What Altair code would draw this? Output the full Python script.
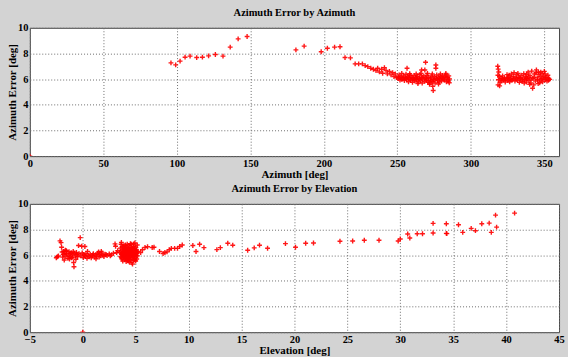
import altair as alt
import pandas as pd

# ---------------- Top panel: Azimuth Error by Azimuth ----------------
top_az = [0.0,
    96.0, 99.2, 102.2, 105.6, 109.0, 113.5, 117.4, 121.6, 126.2, 131.4, 136.3, 141.7, 147.8,
    181.0, 186.6, 198.2, 202.4, 207.3, 211.0, 214.4, 218.1, 221.3, 223.7, 226.2,
    228.1, 229.9, 231.9, 233.7, 235.5, 236.6, 237.8, 239.3, 240.0, 241.2, 242.3, 243.2,
    244.6, 245.7, 246.8, 247.7, 248.6, 249.5,
    # cluster 250-286
    250.5, 251.2, 251.8, 252.4, 253.0, 253.5, 254.1, 254.8, 255.3, 255.9, 256.4, 256.6,
    257.0, 257.6, 258.1, 258.7, 259.2, 259.8, 260.3, 260.9, 261.4, 262.0, 262.5, 263.1,
    263.6, 264.2, 264.7, 265.3, 265.8, 266.4, 266.5, 266.9, 267.5, 268.0, 268.6, 268.7,
    269.2, 269.1, 269.7, 270.2, 270.8, 271.3, 271.9, 272.4, 273.0, 273.5, 274.1, 274.4,
    274.6, 275.2, 275.7, 276.2, 276.2, 276.3, 276.8, 277.4, 277.9, 278.5, 279.0, 279.6,
    280.1, 280.7, 281.2, 281.8, 282.3, 282.9, 283.4, 284.0, 284.5, 285.0, 285.3, 285.5,
    251.0, 252.9, 254.5, 256.0, 257.3, 259.0, 260.6, 261.7, 263.3, 265.0, 267.2, 269.9,
    271.0, 272.7, 274.0, 275.0, 277.1, 278.8, 280.4, 282.0, 283.7, 284.8, 266.0, 262.8,
    258.4, 270.5, 273.8, 279.3, 283.0, 278.0, 272.0, 264.0,
    # cluster 318-354
    318.3, 318.6, 319.0, 318.4, 319.5, 318.8, 319.9, 318.5, 319.6, 320.5, 321.0, 321.6,
    322.2, 322.8, 323.4, 324.0, 324.6, 325.2, 325.8, 326.4, 327.0, 327.6, 328.2, 328.8,
    329.4, 330.0, 330.6, 331.2, 331.8, 332.4, 333.0, 333.6, 334.2, 334.8, 335.4, 336.0,
    336.6, 337.2, 337.8, 338.4, 339.0, 339.6, 340.2, 340.8, 341.4, 342.0, 342.2, 342.8,
    343.4, 344.0, 344.6, 345.2, 345.8, 346.4, 347.0, 347.6, 348.2, 348.8, 349.4, 350.0,
    350.6, 351.2, 351.8, 352.4, 353.0, 353.6,
    321.3, 323.0, 325.0, 327.3, 329.0, 331.0, 333.3, 335.0, 337.5, 339.3, 341.0, 343.0,
    345.5, 347.3, 349.0, 351.0, 352.8, 326.0, 332.0, 338.0, 344.3, 346.0, 348.5, 350.5,
    340.0, 336.3, 346.8]
top_err = [0.0,
    7.27, 7.11, 7.40, 7.71, 7.79, 7.68, 7.71, 7.81, 7.92, 7.79, 8.49, 9.14, 9.32,
    8.28, 8.57, 8.13, 8.41, 8.49, 8.52, 7.68, 7.66, 7.19, 7.19, 7.19,
    7.05, 6.97, 6.85, 6.77, 6.67, 6.85, 6.56, 6.77, 6.46, 6.90, 6.67, 6.41,
    6.59, 6.33, 6.51, 6.20, 6.41, 6.12,
    6.05, 6.32, 5.92, 6.18, 6.45, 6.02, 6.25, 5.88, 6.12, 6.38, 5.95, 6.85,
    6.20, 5.80, 6.08, 6.30, 5.90, 6.15, 5.75, 6.02, 6.28, 5.85, 6.10, 5.95,
    6.22, 5.78, 6.05, 6.35, 5.88, 6.12, 6.71, 5.70, 6.00, 6.25, 5.82, 6.71,
    7.31, 6.08, 5.92, 6.30, 5.75, 6.15, 5.60, 6.02, 5.85, 6.25, 5.45, 5.11,
    5.95, 6.18, 5.70, 7.10, 6.85, 6.05, 6.32, 5.88, 6.12, 5.78, 6.22, 6.00,
    5.85, 6.28, 6.05, 5.92, 6.18, 6.35, 5.80, 6.10, 5.95, 6.25, 5.72, 6.02,
    6.15, 5.98, 6.10, 6.05, 6.12, 6.00, 6.10, 5.98, 6.08, 5.98, 6.15, 6.05,
    5.90, 6.10, 5.80, 6.00, 6.00, 6.05, 6.12, 6.00, 6.15, 5.85, 6.45, 6.40,
    6.42, 6.45, 6.40, 6.40, 6.45, 5.62, 5.70, 5.65,
    7.00, 6.78, 6.55, 6.30, 6.20, 5.95, 5.75, 5.55, 5.47, 6.05, 5.85, 6.25,
    5.95, 6.10, 5.78, 6.02, 6.35, 5.88, 6.15, 5.80, 6.05, 6.40, 5.92, 6.20,
    6.50, 5.85, 6.12, 6.35, 5.90, 6.15, 5.75, 6.05, 6.30, 5.82, 6.10, 6.42,
    5.95, 6.20, 5.78, 6.05, 6.55, 5.90, 6.28, 5.70, 6.62, 5.29, 6.05, 5.55,
    6.40, 5.85, 6.72, 6.10, 5.65, 6.35, 5.92, 6.55, 6.00, 5.80, 6.25, 6.60,
    5.95, 6.15, 5.85, 6.30, 6.05, 5.98,
    6.05, 6.00, 6.08, 5.95, 6.05, 6.00, 6.10, 5.95, 6.05, 6.15, 6.00, 6.15,
    5.95, 6.20, 6.05, 6.10, 5.90, 6.30, 6.45, 6.38, 6.50, 6.55, 6.45, 6.40,
    5.60, 5.70, 5.72]

# ---------------- Bottom panel: Azimuth Error by Elevation ----------------
bot_el = [0.0,
    # cluster -2.5 .. 3.3
    -2.5, -2.4, -2.3, -2.15, -2.05, -2.0, -1.95, -1.9, -1.85, -1.8, -1.75, -1.7,
    -1.6, -1.55, -1.5, -1.4, -1.35, -1.3, -1.2, -1.15, -1.1, -1.0, -0.95, -0.9,
    -0.86, -0.83, -0.8, -0.7, -0.6, -0.55, -0.5, -0.4, -0.35, -0.24, -0.2, -0.1,
    -0.05, 0.05, 0.1, 0.2, 0.25, 0.3, 0.4, 0.5, 0.6, 0.7, 0.8, 0.9,
    1.0, 1.1, 1.2, 1.3, 1.4, 1.5, 1.55, 1.6, 1.7, 1.8, 1.9, 2.0,
    2.1, 2.3, 2.5, 2.7, 2.9, 3.05, 3.1, 3.2, 3.3, -1.65, -1.25, -0.65,
    0.45, 1.25, 1.75, -1.05, 2.2, 2.6, 0.15, 0.95,
    # cluster 3.5 .. 5.2
    3.50, 3.55, 3.58, 3.62, 3.65, 3.68, 3.70, 3.72, 3.75, 3.78, 3.80, 3.82,
    3.85, 3.88, 3.90, 3.92, 3.95, 3.98, 4.00, 4.02, 4.05, 4.08, 4.10, 4.12,
    4.15, 4.18, 4.20, 4.22, 4.25, 4.28, 4.30, 4.32, 4.35, 4.38, 4.40, 4.42,
    4.45, 4.48, 4.50, 4.52, 4.55, 4.58, 4.60, 4.62, 4.65, 4.68, 4.70, 4.72,
    4.75, 4.78, 4.80, 4.82, 4.85, 4.88, 4.90, 4.92, 4.95, 4.98, 5.00, 5.02,
    5.05, 5.08, 5.10, 5.12, 5.15, 5.18, 5.20,
    3.60, 3.70, 3.85, 3.95, 4.05, 4.15, 4.25, 4.35, 4.45, 4.55, 4.65, 4.75,
    4.85, 4.95, 5.05, 3.75, 4.00, 4.30, 4.60, 4.90, 3.90, 4.50, 4.80, 4.20, 3.65,
    # sparse 5.4 .. 41
    5.47, 5.64, 5.88, 6.12, 6.56, 6.73, 7.25, 7.59, 7.76, 7.96, 8.17, 8.37,
    8.68, 8.95, 9.16, 9.40, 10.4, 10.7, 11.04, 11.45, 12.67, 13.0, 13.7, 14.17,
    15.58, 16.2, 16.7, 17.46, 19.15, 20.1, 21.06, 21.8, 24.3, 25.5, 26.6, 27.99,
    29.8, 30.0, 30.7, 30.9, 31.6, 32.1, 33.1, 33.1, 34.35, 34.35, 34.4, 35.5,
    35.9, 36.7, 37.1, 37.7, 38.4, 38.6, 39.0, 39.1, 40.8]
bot_err = [0.0,
    5.80, 5.88, 5.95, 7.12, 6.98, 6.62, 6.25, 5.85, 6.05, 6.30, 5.62, 6.10,
    5.90, 6.35, 6.15, 5.75, 6.00, 6.28, 6.10, 5.90, 6.20, 6.05, 5.85, 6.30,
    5.43, 5.10, 6.15, 5.95, 6.22, 6.05, 5.88, 6.75, 6.12, 7.37, 5.95, 6.70,
    6.18, 5.82, 6.05, 6.68, 5.90, 6.12, 5.75, 6.00, 5.88, 6.08, 5.80, 5.95,
    6.12, 5.85, 6.02, 5.92, 6.15, 6.25, 5.85, 6.05, 5.95, 6.18, 6.00, 5.90,
    6.08, 5.98, 6.10, 6.02, 6.15, 6.88, 6.70, 6.20, 6.35, 6.40, 5.70, 5.68,
    6.30, 5.72, 6.30, 5.80, 6.05, 5.95, 5.98, 6.02,
    6.20, 6.55, 5.90, 6.85, 7.00, 6.05, 5.70, 6.40, 6.15, 5.55, 6.70, 5.95,
    6.30, 6.55, 5.80, 6.10, 5.65, 6.45, 6.00, 6.80, 5.75, 6.25, 5.50, 6.60,
    5.90, 6.35, 6.05, 5.60, 6.50, 5.85, 6.20, 6.75, 5.70, 6.40, 6.00, 5.45,
    6.62, 5.95, 6.30, 5.65, 6.10, 6.85, 5.80, 6.45, 5.40, 6.20, 5.30, 6.55,
    5.90, 6.35, 5.60, 6.70, 6.05, 5.75, 6.50, 6.95, 5.85, 6.25, 5.55, 6.60,
    6.00, 6.40, 5.70, 6.15, 6.80, 5.95, 6.30,
    6.30, 6.10, 5.95, 6.20, 6.05, 6.45, 5.75, 6.15, 5.85, 6.40, 6.00, 6.15,
    5.95, 6.10, 6.25, 6.60, 5.85, 5.55, 6.60, 5.65, 6.75, 6.90, 6.88, 6.85, 5.80,
    6.21, 6.42, 6.60, 6.66, 6.60, 6.62, 6.29, 6.13, 6.21, 6.26, 6.42, 6.53,
    6.53, 6.53, 6.68, 6.79, 6.76, 6.29, 6.85, 6.59, 6.43, 6.59, 6.93, 6.78,
    6.39, 6.57, 6.78, 6.54, 6.90, 6.62, 6.93, 6.95, 7.09, 7.11, 7.16, 7.16,
    7.11, 7.26, 7.65, 7.34, 7.67, 7.67, 8.48, 7.73, 8.45, 7.70, 7.68, 8.37,
    7.78, 8.09, 7.91, 8.45, 8.50, 7.78, 9.12, 8.19, 9.28]

df_top = pd.DataFrame({"az": top_az, "err": top_err})
df_bot = pd.DataFrame({"el": bot_el, "err": bot_err})

FONT = "Liberation Serif"
PLUS = "M-1,0L1,0M0,-1L0,1"

def marks(df):
    return alt.Chart(df).mark_point(
        shape=PLUS, filled=False, color="#ff0000", size=24, strokeWidth=1.4,
        opacity=0.9, clip=True)

yenc = alt.Y("err:Q", scale=alt.Scale(domain=[0, 10], nice=False, zero=False),
             axis=alt.Axis(values=[0, 2, 4, 6, 8, 10], title="Azimuth Error [deg]"))

top = marks(df_top).encode(
    x=alt.X("az:Q", scale=alt.Scale(domain=[0, 360], nice=False, zero=False),
            axis=alt.Axis(values=[0, 50, 100, 150, 200, 250, 300, 350], title="Azimuth [deg]")),
    y=yenc,
).properties(width=532, height=129, title="Azimuth Error by Azimuth")

bottom = marks(df_bot).encode(
    x=alt.X("el:Q", scale=alt.Scale(domain=[-5, 45], nice=False, zero=False),
            axis=alt.Axis(values=[-5, 0, 5, 10, 15, 20, 25, 30, 35, 40, 45], title="Elevation [deg]")),
    y=yenc,
).properties(width=532, height=129, title="Azimuth Error by Elevation")

chart = alt.vconcat(top, bottom, spacing=4).properties(
    background="#d3d3d3",
    padding={"left": 6, "top": 7, "right": 3, "bottom": 0},
).configure_view(
    fill="white", stroke="#444444", strokeWidth=1
).configure_axis(
    grid=True, gridColor="#6e6e6e", gridDash=[1, 2], gridWidth=1, gridOpacity=1,
    domain=False, ticks=False, labelPadding=2,
    labelFont=FONT, labelFontWeight="bold", labelFontSize=10.5, labelColor="black",
    labelFlush=False, labelOverlap=False,
    titleFont=FONT, titleFontWeight="bold", titleFontSize=11, titleColor="black",
    titlePadding=0,
).configure_title(
    font=FONT, fontWeight="bold", fontSize=10.5, color="black", anchor="middle", offset=4
)

chart.save("out.html", embed_options={"renderer": "svg", "actions": False})
